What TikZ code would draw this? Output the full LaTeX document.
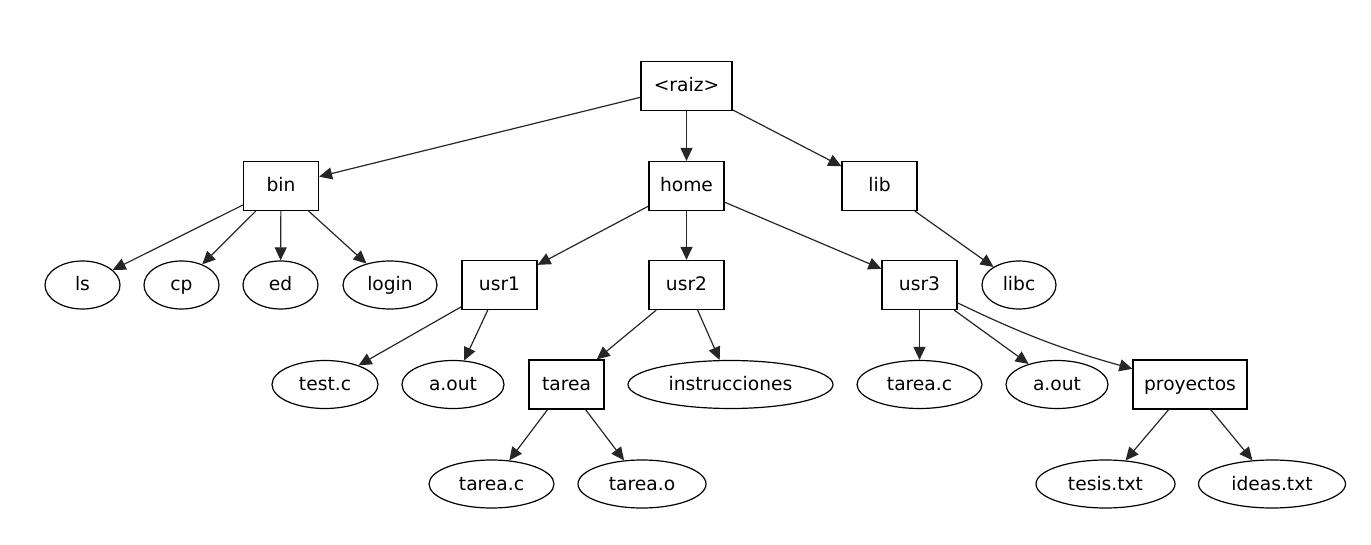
\documentclass[tikz,border=0pt]{standalone}
\usepackage{fontspec}
\setmainfont{DejaVu Sans}
\usetikzlibrary{shapes.geometric,arrows.meta}
\tikzset{
  lbl/.style={font=\fontsize{14}{16}\selectfont, text height=11pt, text depth=2pt},
  dirbox/.style={draw, rectangle, lbl, line width=0.9pt, minimum width=56.25pt, minimum height=36.75pt, inner sep=0pt},
  filenode/.style={draw, ellipse, lbl, line width=0.9pt, minimum width=56.25pt, minimum height=36pt, inner sep=0pt},
  link/.style={-{Triangle[length=9.75pt,width=9pt]}, line width=0.9pt, draw=black!85}
}
\begin{document}
\begin{tikzpicture}[x=0.75pt,y=-0.75pt]
\useasboundingbox (0,0) rectangle (1371,545);
% directories
\node[dirbox, minimum width=68.25pt] (raiz) at (686.5,86) {<raiz>};
\node[dirbox] (bin) at (281,186) {bin};
\node[dirbox] (home) at (686.5,186) {home};
\node[dirbox] (lib) at (879.5,186) {lib};
\node[dirbox] (usr1) at (499.5,285) {usr1};
\node[dirbox] (usr2) at (686.5,285) {usr2};
\node[dirbox] (usr3) at (919.5,285) {usr3};
\node[dirbox] (tarea) at (566.5,384.5) {tarea};
\node[dirbox, minimum width=85.5pt] (proy) at (1190,384.5) {proyectos};
% files
\node[filenode] (ls) at (82.5,285) {ls};
\node[filenode] (cp) at (181.5,285) {cp};
\node[filenode] (ed) at (280.5,285) {ed};
\node[filenode, minimum width=70.5pt] (login) at (390,285) {login};
\node[filenode, minimum width=55.5pt] (libc) at (1019,285) {libc};
\node[filenode, minimum width=79.5pt] (testc) at (325,384.5) {test.c};
\node[filenode, minimum width=76.5pt] (aout1) at (453,384.5) {a.out};
\node[filenode, minimum width=153.75pt] (instr) at (730.5,384.5) {instrucciones};
\node[filenode, minimum width=93.75pt] (tareac3) at (919.5,384.5) {tarea.c};
\node[filenode, minimum width=76.5pt] (aout3) at (1057,384.5) {a.out};
\node[filenode, minimum width=93.75pt] (tareac) at (491.5,484) {tarea.c};
\node[filenode, minimum width=96pt] (tareao) at (642,484) {tarea.o};
\node[filenode, minimum width=104.25pt] (tesis) at (1105.5,484) {tesis.txt};
\node[filenode, minimum width=110.25pt] (ideas) at (1272,484) {ideas.txt};
% connectors
\draw[link] (raiz) -- (bin);
\draw[link] (raiz) -- (home);
\draw[link] (raiz) -- (lib);
\draw[link] (bin) -- (ls);
\draw[link] (bin) -- (cp);
\draw[link] (bin) -- (ed);
\draw[link] (bin) -- (login);
\draw[link] (home) -- (usr1);
\draw[link] (home) -- (usr2);
\draw[link] (home) -- (usr3);
\draw[link] (lib) -- (libc);
\draw[link] (usr1) -- (testc);
\draw[link] (usr1) -- (aout1);
\draw[link] (usr2) -- (tarea);
\draw[link] (usr2) -- (instr);
\draw[link] (usr3) -- (tareac3);
\draw[link] (usr3) -- (aout3);
\draw[link] (usr3) to[bend right=5] (proy);
\draw[link] (tarea) -- (tareac);
\draw[link] (tarea) -- (tareao);
\draw[link] (proy) -- (tesis);
\draw[link] (proy) -- (ideas);
\end{tikzpicture}
\end{document}
